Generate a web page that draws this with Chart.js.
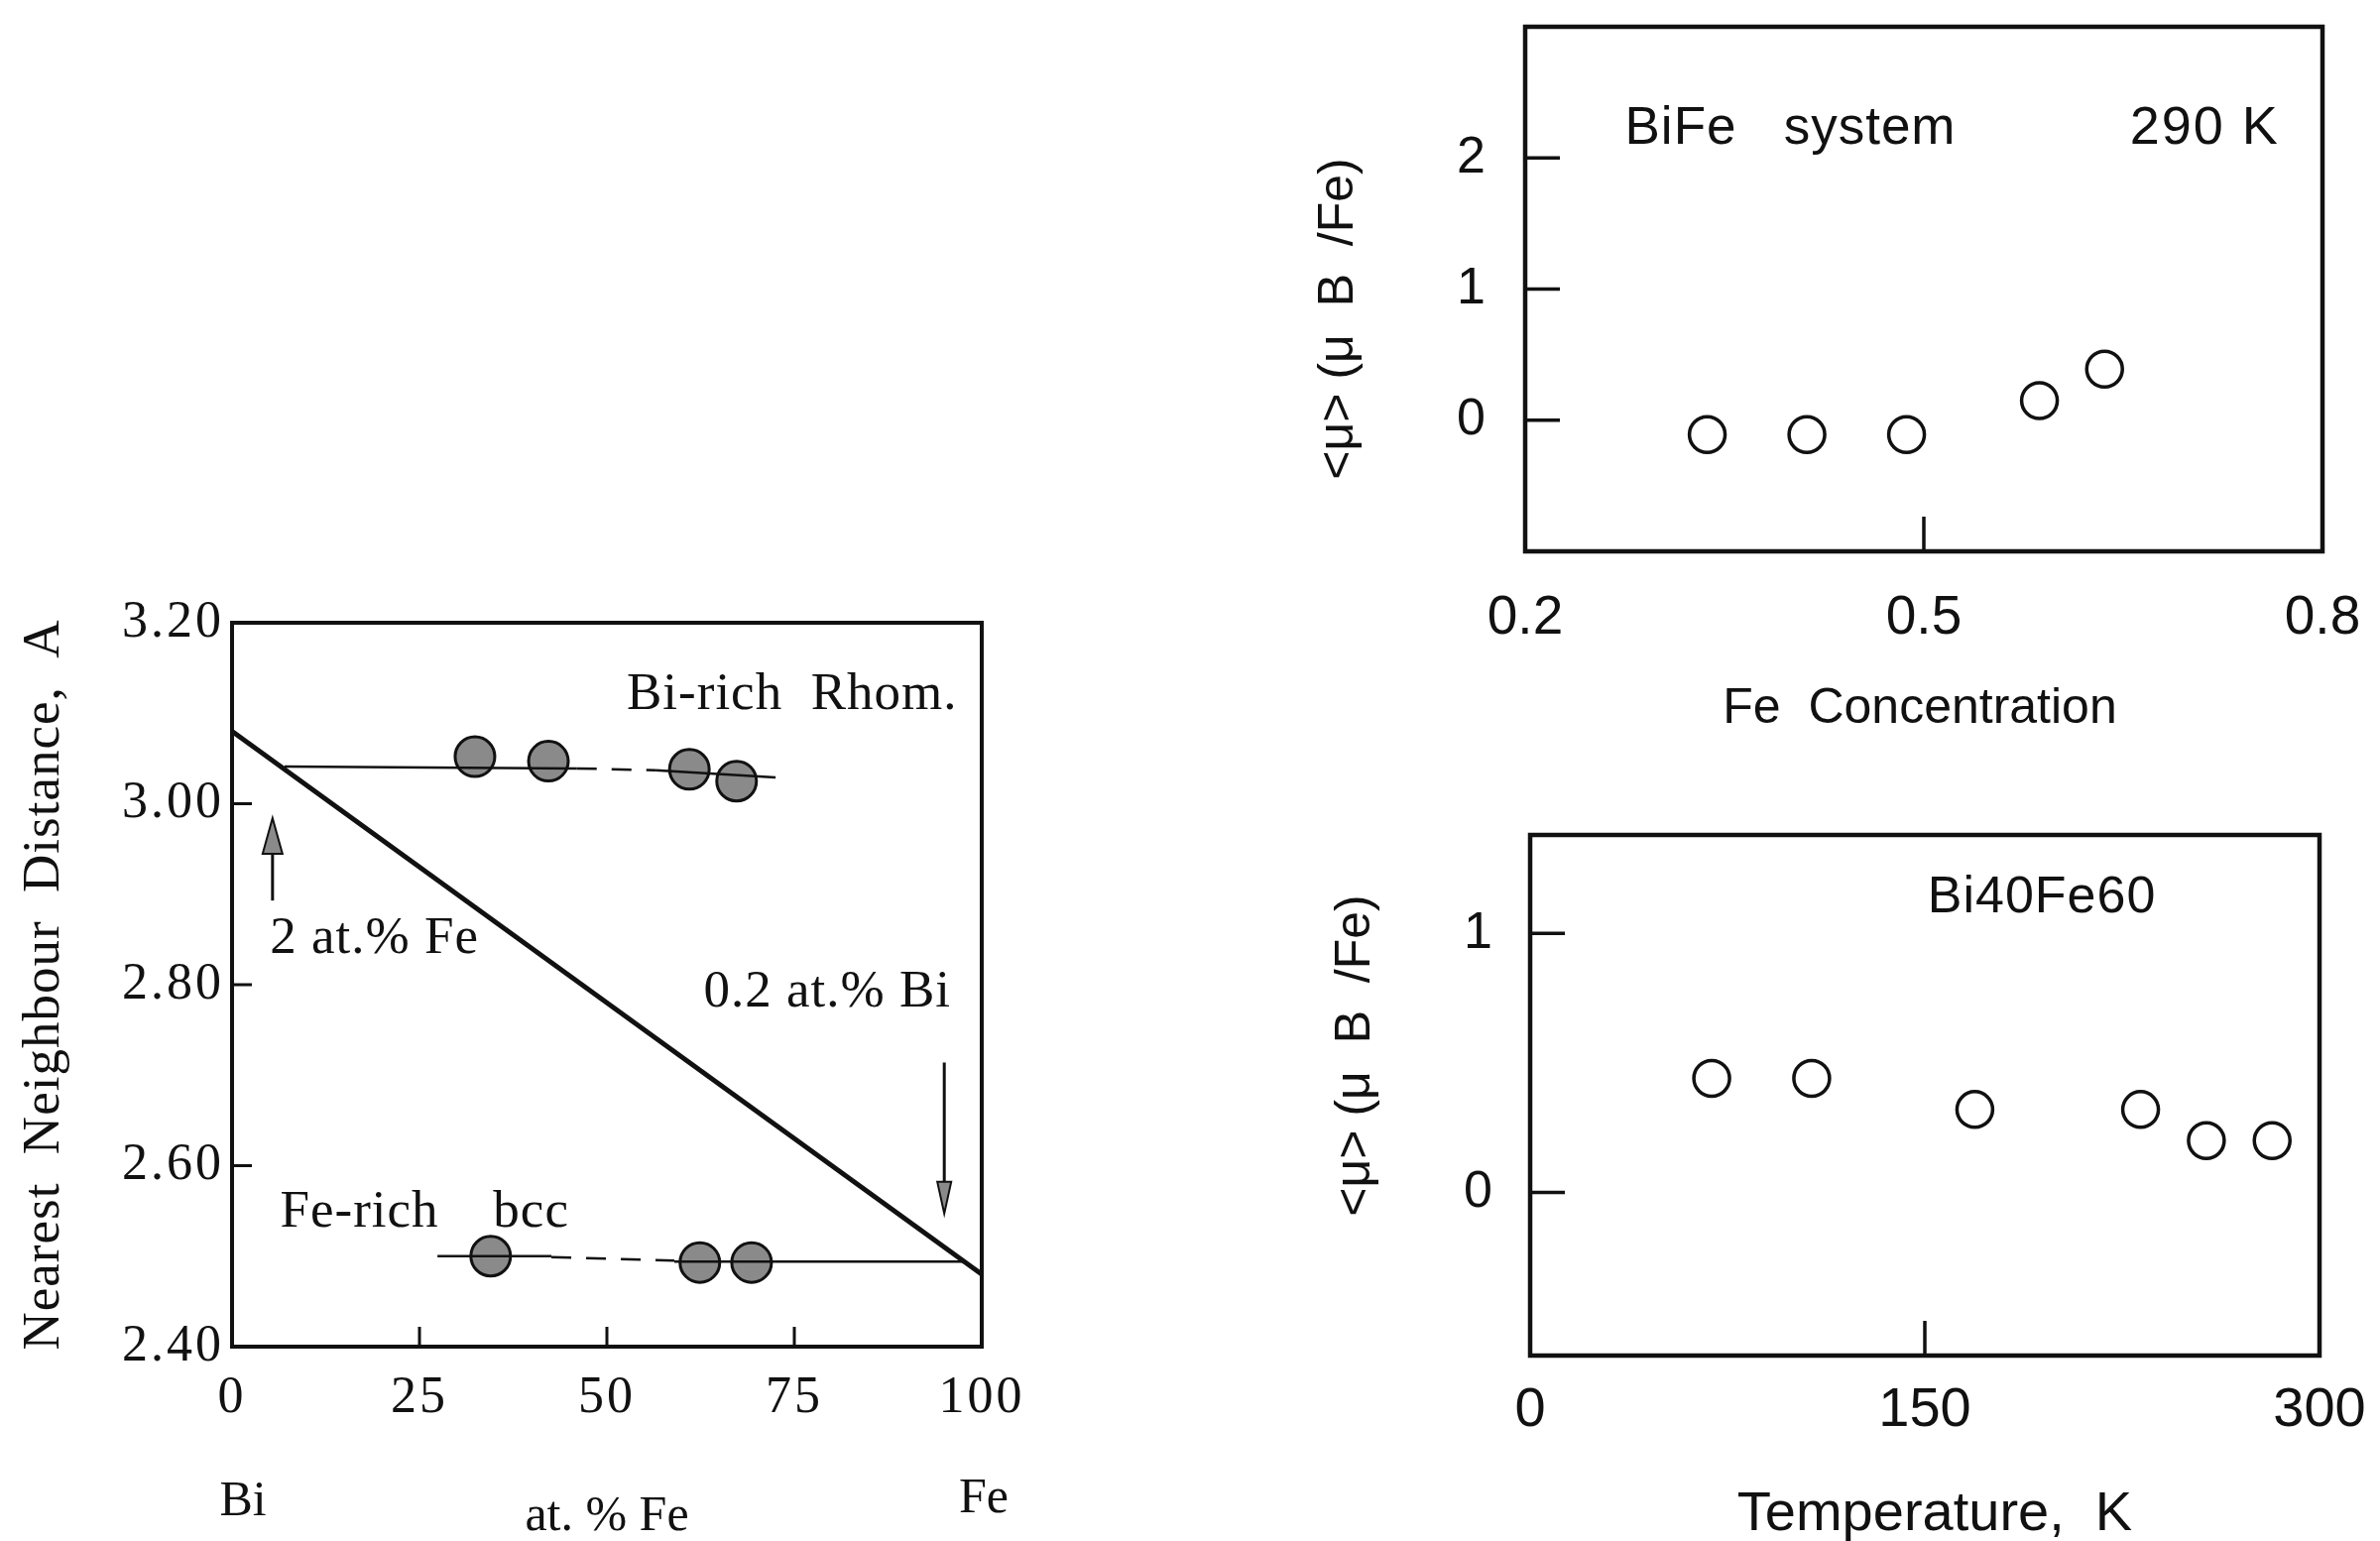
<!DOCTYPE html>
<html>
<head>
<meta charset="utf-8">
<script src="https://cdn.jsdelivr.net/npm/chart.js@4.4.0/dist/chart.umd.min.js"></script>
<style>
  html, body { margin: 0; padding: 0; background: #fff; }
  body { width: 2400px; height: 1554px; position: relative; overflow: hidden; }
  .panel { position: absolute; }
</style>
</head>
<body>
<div class="panel" style="left:0;top:560px;width:1060px;height:994px"><canvas id="distChart"></canvas></div>
<div class="panel" style="left:1300px;top:0;width:1100px;height:780px"><canvas id="concChart"></canvas></div>
<div class="panel" style="left:1300px;top:780px;width:1100px;height:774px"><canvas id="tempChart"></canvas></div>
<script>
// left panel: nearest neighbour distance vs at.% Fe
const distXTicks = [0, 25, 50, 75, 100];
const distYTicks = [2.40, 2.60, 2.80, 3.00, 3.20];
const biRichX = [32.4, 42.2, 61.0, 67.3];
const biRichY = [3.052, 3.047, 3.038, 3.025];
const feRichX = [34.5, 62.4, 69.3];
const feRichY = [2.500, 2.493, 2.493];
const vegardLine = [[0, 3.08], [100, 2.48]];
const biRichLineA = [[7.0, 3.041], [46.0, 3.039]];
const biRichLineDash = [[46.0, 3.039], [56.5, 3.037]];
const biRichLineB = [[56.5, 3.037], [72.5, 3.029]];
const feRichLineA = [[27.4, 2.500], [42.6, 2.500]];
const feRichLineDash = [[42.6, 2.499], [59.0, 2.495]];
const feRichLineB = [[59.0, 2.494], [97.5, 2.494]];
// arrows: x, from y, to y (tip)
const distArrows = [[5.4, 2.893, 2.984], [95.0, 2.714, 2.547]];

// top right: moment vs Fe concentration at 290 K
const concXTicks = [0.2, 0.5, 0.8];
const concYTicks = [0, 1, 2];
const concX = [0.337, 0.412, 0.487, 0.587, 0.636];
const concMu = [-0.11, -0.11, -0.11, 0.15, 0.39];

// bottom right: moment vs temperature, Bi40Fe60
const tempXTicks = [0, 150, 300];
const tempYTicks = [0, 1];
const tempX = [69, 107, 169, 232, 257, 282];
const tempMu = [0.44, 0.44, 0.32, 0.32, 0.20, 0.20];

const INK = '#111';
const SERIF = '"Liberation Serif", "DejaVu Serif", serif';
const SANS = '"Liberation Sans", Arial, sans-serif';

const toPts = (xs, ys) => xs.map((x, i) => ({ x: x, y: ys[i] }));
const pairPts = arr => arr.map(p => ({ x: p[0], y: p[1] }));
const fixedTicks = values => scale => { scale.ticks = values.map(v => ({ value: v })); };

function lineSet(points, width, dash) {
  return { data: pairPts(points), showLine: true, borderColor: INK, borderWidth: width,
           borderDash: dash || [], pointRadius: 0, pointHoverRadius: 0 };
}

// box + inward tick marks, optional tracking for the tick labels
const framePlugin = {
  id: 'frame',
  beforeDraw(chart, args, opts) {
    chart.ctx.letterSpacing = opts.tracking || '0px';
  },
  beforeDatasetsDraw(chart, args, opts) {
    const { ctx, chartArea: a, scales } = chart;
    ctx.save();
    ctx.strokeStyle = INK;
    ctx.lineWidth = opts.lineWidth;
    ctx.strokeRect(a.left, a.top, a.right - a.left, a.bottom - a.top);
    ctx.lineWidth = opts.tickWidth;
    scales.x.ticks.forEach(t => {
      if (t.value <= scales.x.min || t.value >= scales.x.max) return;
      const px = scales.x.getPixelForValue(t.value);
      ctx.beginPath(); ctx.moveTo(px, a.bottom); ctx.lineTo(px, a.bottom - opts.tickLen); ctx.stroke();
    });
    scales.y.ticks.forEach(t => {
      if (t.value <= scales.y.min || t.value >= scales.y.max) return;
      const py = scales.y.getPixelForValue(t.value);
      ctx.beginPath(); ctx.moveTo(a.left, py); ctx.lineTo(a.left + opts.tickLen, py); ctx.stroke();
    });
    ctx.restore();
  },
  afterDraw(chart) {
    chart.ctx.letterSpacing = '0px';
  }
};

// free text: data coords (x,y) or offsets from the chart area
function textLayer(items, arrows) {
  return {
    id: 'textLayer',
    afterDatasetsDraw(chart) {
      const { ctx, chartArea: a, scales } = chart;
      const ax = { left: a.left, center: (a.left + a.right) / 2, right: a.right };
      const ay = { top: a.top, center: (a.top + a.bottom) / 2, bottom: a.bottom };
      ctx.save();
      ctx.fillStyle = INK;
      ctx.textBaseline = 'middle';
      items.forEach(it => {
        let px, py;
        if (it.x !== undefined) {
          px = scales.x.getPixelForValue(it.x);
          py = scales.y.getPixelForValue(it.y);
        } else {
          px = ax[it.ax] + it.dx;
          py = ay[it.ay] + it.dy;
        }
        ctx.font = it.font;
        ctx.letterSpacing = it.tracking || '0px';
        ctx.textAlign = it.align || 'center';
        ctx.save();
        ctx.translate(px, py);
        if (it.rotate) ctx.rotate(it.rotate);
        ctx.fillText(it.text, 0, 0);
        ctx.restore();
      });
      (arrows || []).forEach(ar => {
        const x = scales.x.getPixelForValue(ar[0]);
        const y0 = scales.y.getPixelForValue(ar[1]);
        const y1 = scales.y.getPixelForValue(ar[2]);
        const dir = Math.sign(y1 - y0);
        const up = dir < 0;
        const len = up ? 36 : 32, w = up ? 20 : 14;
        ctx.strokeStyle = INK;
        ctx.lineWidth = 3;
        ctx.beginPath(); ctx.moveTo(x, y0); ctx.lineTo(x, y1 - dir * len); ctx.stroke();
        ctx.fillStyle = '#8a8a8a';
        ctx.lineWidth = 2;
        ctx.beginPath();
        ctx.moveTo(x, y1);
        ctx.lineTo(x - w / 2, y1 - dir * len);
        ctx.lineTo(x + w / 2, y1 - dir * len);
        ctx.closePath();
        ctx.fill(); ctx.stroke();
        ctx.fillStyle = INK;
      });
      ctx.restore();
    }
  };
}

function axisOpts(min, max, ticks, fit, font, pad, fmt) {
  return {
    type: 'linear', min: min, max: max,
    afterBuildTicks: fixedTicks(ticks),
    afterFit: s => {
      fit(s);
      // keep the label overhang from pushing the chart area around
      s.paddingTop = 0; s.paddingBottom = 0; s.paddingLeft = 0; s.paddingRight = 0;
    },
    grid: { display: false, drawTicks: false },
    border: { display: false },
    ticks: { autoSkip: false, maxRotation: 0, padding: pad, color: INK, font: font, callback: fmt }
  };
}

const baseOpts = (padding, frame) => ({
  responsive: true, maintainAspectRatio: false, animation: false,
  layout: { padding: padding },
  plugins: { legend: { display: false }, tooltip: { enabled: false }, frame: frame },
  events: []
});

// ---- left chart
const distOpts = baseOpts({ left: 0, top: 68, right: 70, bottom: 0 },
  { lineWidth: 4, tickWidth: 3, tickLen: 20, tracking: '3px' });
distOpts.scales = {
  x: axisOpts(0, 100, distXTicks, s => { s.height = 196; }, { family: SERIF, size: 52 }, 21, v => String(v)),
  y: axisOpts(2.40, 3.20, distYTicks, s => { s.width = 234; }, { family: SERIF, size: 52 }, 8, v => v.toFixed(2))
};
new Chart(document.getElementById('distChart'), {
  type: 'scatter',
  data: { datasets: [
    lineSet(vegardLine, 5),
    lineSet(biRichLineA, 2.5), lineSet(biRichLineDash, 2.5, [20, 15]), lineSet(biRichLineB, 2.5),
    lineSet(feRichLineA, 2.5), lineSet(feRichLineDash, 2.5, [20, 15]), lineSet(feRichLineB, 2.5),
    { data: toPts(biRichX, biRichY), pointRadius: 20, pointBackgroundColor: '#8a8a8a', pointBorderColor: INK, pointBorderWidth: 3 },
    { data: toPts(feRichX, feRichY), pointRadius: 20, pointBackgroundColor: '#8a8a8a', pointBorderColor: INK, pointBorderWidth: 3 }
  ] },
  options: distOpts,
  plugins: [framePlugin, textLayer([
    { text: 'Bi-rich  Rhom.', x: 74.7, y: 3.12, font: '53px ' + SERIF, tracking: '1px' },
    { text: '2 at.% Fe', x: 19.0, y: 2.85, font: '53px ' + SERIF, tracking: '1px' },
    { text: '0.2 at.% Bi', x: 79.4, y: 2.791, font: '53px ' + SERIF, tracking: '1px' },
    { text: 'Fe-rich', x: 17.0, y: 2.548, font: '53px ' + SERIF, tracking: '1px' },
    { text: 'bcc', x: 39.9, y: 2.548, font: '53px ' + SERIF, tracking: '1px' },
    { text: 'Nearest  Neighbour  Distance,  A', ax: 'left', dx: -189, ay: 'center', dy: 0, rotate: -Math.PI / 2, font: '53px ' + SERIF, tracking: '1px' },
    { text: 'Bi', ax: 'left', dx: 11, ay: 'bottom', dy: 157, font: '50px ' + SERIF },
    { text: 'at. % Fe', ax: 'center', dx: 0, ay: 'bottom', dy: 172, font: '50px ' + SERIF },
    { text: 'Fe', ax: 'right', dx: 2, ay: 'bottom', dy: 154, font: '50px ' + SERIF }
  ], distArrows)]
});

// ---- top right chart
const openCircle = { pointRadius: 18, pointBackgroundColor: '#fff', pointBorderColor: INK, pointBorderWidth: 3.5 };
const concOpts = baseOpts({ left: 0, top: 27, right: 58, bottom: 0 }, { lineWidth: 4.5, tickWidth: 3.5, tickLen: 35 });
concOpts.scales = {
  x: axisOpts(0.2, 0.8, concXTicks, s => { s.height = 224; }, { family: SANS, size: 55 }, 35, v => v.toFixed(1)),
  y: axisOpts(-1, 3, concYTicks, s => { s.width = 238; }, { family: SANS, size: 52 }, 40, v => String(v))
};
new Chart(document.getElementById('concChart'), {
  type: 'scatter',
  data: { datasets: [Object.assign({ data: toPts(concX, concMu) }, openCircle)] },
  options: concOpts,
  plugins: [framePlugin, textLayer([
    { text: 'BiFe   system', x: 0.275, y: 2.22, align: 'left', font: '53px ' + SANS, tracking: '1px' },
    { text: '290 K', x: 0.655, y: 2.22, align: 'left', font: '54px ' + SANS, tracking: '2px' },
    { text: '<\u03bc> (\u03bc  B  /Fe)', ax: 'left', dx: -188, ay: 'center', dy: 30, rotate: -Math.PI / 2, font: '50px ' + SANS },
    { text: 'Fe  Concentration', ax: 'center', dx: -4, ay: 'bottom', dy: 159, font: '50px ' + SANS }
  ])]
});

// ---- bottom right chart
const tempOpts = baseOpts({ left: 0, top: 62, right: 61, bottom: 0 }, { lineWidth: 4.5, tickWidth: 3.5, tickLen: 35 });
tempOpts.scales = {
  x: axisOpts(0, 300, tempXTicks, s => { s.height = 187; }, { family: SANS, size: 56 }, 22, v => String(v)),
  y: axisOpts(-0.63, 1.38, tempYTicks, s => { s.width = 243; }, { family: SANS, size: 52 }, 38, v => String(v))
};
new Chart(document.getElementById('tempChart'), {
  type: 'scatter',
  data: { datasets: [Object.assign({ data: toPts(tempX, tempMu) }, openCircle)] },
  options: tempOpts,
  plugins: [framePlugin, textLayer([
    { text: 'Bi40Fe60', x: 194.5, y: 1.135, font: '52px ' + SANS, tracking: '1px' },
    { text: '<\u03bc> (\u03bc  B  /Fe)', ax: 'left', dx: -176, ay: 'center', dy: -40, rotate: -Math.PI / 2, font: '50px ' + SANS },
    { text: 'Temperature,  K', ax: 'center', dx: 10, ay: 'bottom', dy: 161, font: '56px ' + SANS }
  ])]
});
</script>
</body>
</html>
